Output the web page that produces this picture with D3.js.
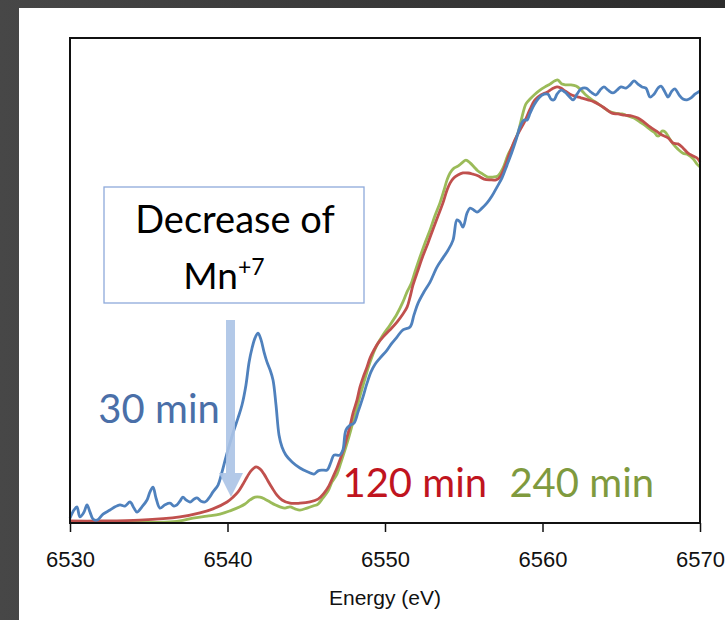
<!DOCTYPE html>
<html>
<head>
<meta charset="utf-8">
<script src="https://cdn.jsdelivr.net/npm/d3@7"></script>
<style>
  html, body { margin: 0; padding: 0; background: #333; }
  svg { display: block; }
</style>
</head>
<body>
<div id="chart"></div>
<script>
// Mn K-edge XANES, three reaction times
// [energy eV, normalised absorbance]
var scan30 = [
  [6530.00,0.012],[6530.25,0.032],[6530.44,0.040],[6530.63,0.015],[6530.89,0.027],[6531.08,0.045],
  [6531.27,0.027],[6531.46,0.010],[6531.71,0.007],[6532.10,0.022],[6532.54,0.032],[6532.86,0.040],
  [6533.17,0.045],[6533.49,0.042],[6533.81,0.052],[6534.06,0.037],[6534.25,0.027],[6534.57,0.040],
  [6534.89,0.057],[6535.08,0.077],[6535.27,0.089],[6535.46,0.062],[6535.71,0.037],[6536.03,0.045],
  [6536.35,0.049],[6536.60,0.042],[6536.79,0.045],[6536.98,0.054],[6537.17,0.064],[6537.37,0.057],
  [6537.62,0.052],[6537.87,0.059],[6538.06,0.062],[6538.32,0.054],[6538.57,0.052],[6538.83,0.062],
  [6539.08,0.077],[6539.40,0.094],[6539.65,0.126],[6539.90,0.163],[6540.16,0.198],[6540.41,0.230],
  [6540.67,0.260],[6540.92,0.292],[6541.17,0.341],[6541.37,0.398],[6541.56,0.433],[6541.75,0.458],
  [6541.94,0.470],[6542.13,0.453],[6542.32,0.423],[6542.51,0.398],[6542.70,0.379],[6542.89,0.354],
  [6543.08,0.292],[6543.27,0.218],[6543.46,0.188],[6543.71,0.168],[6544.10,0.151],[6544.60,0.136],
  [6545.11,0.126],[6545.49,0.121],[6545.75,0.129],[6546.00,0.131],[6546.32,0.131],[6546.57,0.151],
  [6546.76,0.168],[6547.14,0.168],[6547.33,0.181],[6547.52,0.230],[6547.78,0.242],[6548.03,0.247],
  [6548.29,0.275],[6548.54,0.304],[6548.86,0.346],[6549.11,0.374],[6549.37,0.393],[6549.68,0.408],
  [6550.13,0.428],[6550.44,0.445],[6550.76,0.460],[6551.14,0.478],[6551.59,0.485],[6551.84,0.515],
  [6552.10,0.544],[6552.48,0.572],[6552.86,0.596],[6553.30,0.633],[6553.68,0.656],[6554.00,0.675],
  [6554.32,0.700],[6554.57,0.750],[6554.76,0.745],[6554.95,0.732],[6555.21,0.767],[6555.40,0.779],
  [6555.65,0.774],[6555.84,0.769],[6556.16,0.779],[6556.48,0.792],[6556.79,0.809],[6557.11,0.831],
  [6557.43,0.854],[6557.75,0.886],[6558.06,0.918],[6558.32,0.948],[6558.57,0.980],[6558.83,0.997],
  [6559.02,0.997],[6559.21,1.014],[6559.46,1.034],[6559.78,1.052],[6560.10,1.061],[6560.35,1.061],
  [6560.54,1.049],[6560.73,1.047],[6560.92,1.061],[6561.17,1.071],[6561.43,1.066],[6561.68,1.056],
  [6561.94,1.047],[6562.19,1.061],[6562.44,1.074],[6562.76,1.076],[6563.08,1.066],[6563.40,1.059],
  [6563.65,1.071],[6563.90,1.079],[6564.16,1.071],[6564.48,1.064],[6564.73,1.071],[6564.98,1.079],
  [6565.30,1.076],[6565.56,1.084],[6565.81,1.094],[6566.06,1.086],[6566.32,1.079],[6566.57,1.076],
  [6566.83,1.054],[6567.08,1.061],[6567.33,1.076],[6567.52,1.081],[6567.78,1.066],[6567.97,1.054],
  [6568.22,1.069],[6568.41,1.074],[6568.67,1.059],[6568.92,1.049],[6569.17,1.047],[6569.43,1.052],
  [6569.68,1.061],[6570.00,1.069]
];
var scan120 = [
  [6530.00,0.005],[6531.90,0.005],[6534.44,0.007],[6536.98,0.015],[6538.25,0.025],[6539.08,0.035],
  [6539.97,0.052],[6540.35,0.064],[6540.67,0.077],[6540.98,0.096],[6541.24,0.114],[6541.49,0.129],
  [6541.81,0.139],[6542.06,0.134],[6542.32,0.121],[6542.57,0.104],[6542.83,0.087],[6543.14,0.069],
  [6543.46,0.057],[6543.97,0.049],[6544.60,0.049],[6545.24,0.052],[6545.75,0.059],[6546.13,0.074],
  [6546.44,0.092],[6546.70,0.114],[6546.95,0.136],[6547.14,0.156],[6547.40,0.186],[6547.59,0.213],
  [6547.78,0.240],[6547.97,0.272],[6548.22,0.304],[6548.41,0.336],[6548.60,0.359],[6548.86,0.386],
  [6549.05,0.408],[6549.30,0.428],[6549.56,0.445],[6549.87,0.460],[6550.32,0.478],[6550.76,0.497],
  [6551.14,0.517],[6551.40,0.534],[6551.59,0.559],[6551.78,0.589],[6552.10,0.626],[6552.41,0.661],
  [6552.73,0.693],[6553.05,0.727],[6553.37,0.760],[6553.68,0.792],[6553.94,0.824],[6554.13,0.841],
  [6554.38,0.854],[6554.63,0.861],[6554.95,0.866],[6555.27,0.866],[6555.59,0.863],[6555.90,0.859],
  [6556.29,0.851],[6556.67,0.849],[6557.05,0.849],[6557.30,0.856],[6557.62,0.883],[6557.94,0.918],
  [6558.25,0.948],[6558.57,0.972],[6558.89,0.995],[6559.21,1.024],[6559.52,1.047],[6559.90,1.059],
  [6560.29,1.066],[6560.60,1.074],[6560.92,1.079],[6561.17,1.076],[6561.43,1.069],[6561.75,1.061],
  [6562.06,1.056],[6562.44,1.052],[6562.89,1.047],[6563.27,1.042],[6563.65,1.034],[6564.03,1.024],
  [6564.41,1.014],[6564.79,1.012],[6565.24,1.009],[6565.68,1.007],[6566.06,1.002],[6566.44,0.992],
  [6566.83,0.980],[6567.21,0.970],[6567.59,0.960],[6567.97,0.953],[6568.29,0.940],[6568.60,0.938],
  [6568.92,0.928],[6569.24,0.915],[6569.56,0.908],[6569.81,0.903],[6570.00,0.893]
];
var scan240 = [
  [6530.00,0.002],[6531.90,0.002],[6534.44,0.002],[6536.03,0.002],[6536.98,0.005],[6537.81,0.012],
  [6538.70,0.017],[6539.52,0.022],[6540.16,0.030],[6540.79,0.040],[6541.11,0.047],[6541.43,0.057],
  [6541.75,0.064],[6542.06,0.064],[6542.38,0.059],[6542.70,0.052],[6543.02,0.045],[6543.33,0.040],
  [6543.65,0.037],[6543.97,0.040],[6544.29,0.035],[6544.60,0.032],[6545.05,0.037],[6545.43,0.042],
  [6545.75,0.047],[6546.06,0.062],[6546.38,0.079],[6546.63,0.101],[6546.95,0.121],[6547.21,0.151],
  [6547.46,0.181],[6547.71,0.213],[6547.97,0.250],[6548.22,0.285],[6548.41,0.314],[6548.67,0.349],
  [6548.92,0.383],[6549.17,0.411],[6549.49,0.440],[6549.87,0.465],[6550.32,0.490],[6550.76,0.517],
  [6551.14,0.547],[6551.40,0.572],[6551.65,0.591],[6551.90,0.621],[6552.22,0.658],[6552.54,0.693],
  [6552.86,0.725],[6553.17,0.760],[6553.49,0.792],[6553.75,0.824],[6553.94,0.849],[6554.13,0.866],
  [6554.38,0.878],[6554.63,0.883],[6554.89,0.891],[6555.14,0.898],[6555.40,0.891],[6555.65,0.881],
  [6555.90,0.871],[6556.22,0.863],[6556.54,0.856],[6556.86,0.856],[6557.17,0.859],[6557.49,0.878],
  [6557.81,0.911],[6558.13,0.935],[6558.44,0.965],[6558.70,1.005],[6558.95,1.037],[6559.21,1.049],
  [6559.52,1.061],[6559.84,1.071],[6560.16,1.079],[6560.48,1.086],[6560.79,1.094],[6560.98,1.096],
  [6561.24,1.086],[6561.49,1.084],[6561.81,1.084],[6562.13,1.081],[6562.38,1.074],[6562.70,1.061],
  [6563.08,1.049],[6563.46,1.039],[6563.84,1.029],[6564.22,1.019],[6564.60,1.014],[6565.05,1.012],
  [6565.43,1.007],[6565.81,1.002],[6566.19,0.992],[6566.57,0.982],[6566.89,0.972],[6567.14,0.965],
  [6567.27,0.958],[6567.40,0.958],[6567.59,0.970],[6567.78,0.968],[6568.03,0.953],[6568.29,0.938],
  [6568.60,0.925],[6568.92,0.915],[6569.24,0.911],[6569.56,0.901],[6569.81,0.888],[6570.00,0.881]
];
var tickEnergies = [6530, 6540, 6550, 6560, 6570];
var seriesLabels = ['30 min', '120 min', '240 min'];

var W = 725, H = 620;
var svg = d3.select('#chart').append('svg').attr('width', W).attr('height', H);

// dark slide background
var grad = svg.append('defs').append('linearGradient').attr('id', 'bg').attr('x1', 0).attr('x2', 1);
grad.append('stop').attr('offset', 0).attr('stop-color', '#474747');
grad.append('stop').attr('offset', 1).attr('stop-color', '#2c2c2c');
svg.append('rect').attr('width', W).attr('height', H).attr('fill', 'url(#bg)');
svg.append('rect').attr('x', 19).attr('y', 8).attr('width', W - 19).attr('height', H - 8).attr('fill', '#fff');

var x = d3.scaleLinear().domain([6530, 6570]).range([70, 700]);
var y = d3.scaleLinear().domain([0, 1.2]).range([523, 38]);

var line = d3.line()
  .x(function(d){ return x(d[0]); })
  .y(function(d){ return y(d[1]); })
  .curve(d3.curveCatmullRom.alpha(0.5));

//曲线
var plot = svg.append('g');
[[scan240, '#9bbb59'], [scan120, '#c0504d'], [scan30, '#4f81bd']].forEach(function(s){
  plot.append('path').datum(s[0])
    .attr('d', line)
    .attr('fill', 'none')
    .attr('stroke', s[1])
    .attr('stroke-width', 2.8)
    .attr('stroke-linejoin', 'round');
});

//坐标轴
var xAxis = svg.append('g').attr('transform', 'translate(0,523)')
  .call(d3.axisBottom(x).tickValues(tickEnergies).tickSize(9).tickPadding(19).tickFormat(d3.format('d')));
xAxis.select('.domain').remove();
xAxis.selectAll('line').attr('stroke', '#111').attr('stroke-width', 1.5);
xAxis.selectAll('text').attr('font-family', 'Liberation Sans, Arial, sans-serif').attr('font-size', 22).attr('fill', '#111');

svg.append('rect').attr('x', 70).attr('y', 38).attr('width', 630).attr('height', 485)
  .attr('fill', 'none').attr('stroke', '#111').attr('stroke-width', 2);

svg.append('text').text('Energy (eV)')
  .attr('x', 385).attr('y', 605).attr('text-anchor', 'middle')
  .attr('font-family', 'Liberation Sans, Arial, sans-serif').attr('font-size', 21).attr('fill', '#111');

//标注
var font = 'Lato, "Open Sans", sans-serif';
svg.append('rect').attr('x', 104).attr('y', 187).attr('width', 260).attr('height', 116)
  .attr('fill', '#fff').attr('stroke', '#8eaadb').attr('stroke-width', 1.3);
svg.append('text').text('Decrease of')
  .attr('x', 235).attr('y', 233).attr('text-anchor', 'middle')
  .attr('font-family', font).attr('font-size', 38).attr('fill', '#000');
var mn = svg.append('text').attr('x', 224).attr('y', 289).attr('text-anchor', 'middle')
  .attr('font-family', font).attr('font-size', 37).attr('fill', '#000');
mn.append('tspan').text('Mn');
mn.append('tspan').text('+7').attr('font-size', 23).attr('dy', -14);

// arrow
svg.append('path')
  .attr('d', d3.line()([[226, 320], [235, 320], [235, 473], [243, 473], [231, 497], [219, 473], [226, 473]]) + 'Z')
  .attr('fill', '#abc3e5').attr('opacity', 0.9);

var labelPos = [[6531.8, 423, '#4a6fa8'], [6547.3, 497, '#c0141e'], [6557.9, 497, '#7f9a3e']];
seriesLabels.forEach(function(t, i){
  svg.append('text').text(t)
    .attr('x', x(labelPos[i][0])).attr('y', labelPos[i][1])
    .attr('font-family', font).attr('font-size', 40).attr('fill', labelPos[i][2]);
});
</script>
</body>
</html>
